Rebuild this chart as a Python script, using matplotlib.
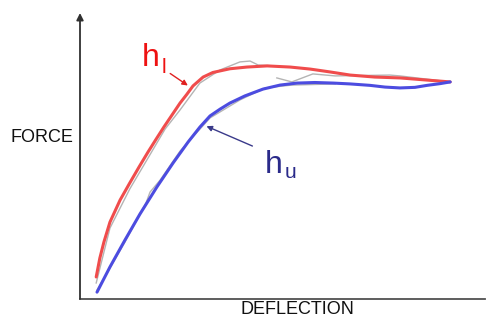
import matplotlib.pyplot as plt

plt.rcParams['font.family'] = ['Liberation Sans', 'DejaVu Sans']

# loading curve (h_l), red
red_x = [0.40, 0.49, 0.59, 0.74, 0.99, 1.23, 1.46, 1.68, 1.88, 2.07, 2.27, 2.47, 2.64, 2.79, 3.04, 3.28,
         3.70, 4.12, 4.62, 5.19, 5.68, 6.17, 6.67, 7.28, 7.90, 8.52, 9.14]
red_y = [0.77, 1.43, 1.99, 2.69, 3.46, 4.06, 4.62, 5.14, 5.59, 6.01, 6.43, 6.85, 7.16, 7.45, 7.76, 7.92,
         8.05, 8.11, 8.15, 8.11, 8.04, 7.94, 7.83, 7.76, 7.73, 7.66, 7.59]

# unloading curve (h_u), blue
blue_x = [0.42, 0.74, 1.11, 1.48, 1.90, 2.30, 2.67, 2.96, 3.21, 3.46, 3.70, 4.07, 4.52, 4.94, 5.36, 5.80,
          6.25, 6.67, 7.16, 7.53, 7.90, 8.27, 8.57, 8.89, 9.14]
blue_y = [0.24, 1.12, 2.06, 2.97, 3.92, 4.76, 5.49, 6.01, 6.40, 6.64, 6.85, 7.10, 7.34, 7.48, 7.55, 7.57,
          7.55, 7.52, 7.47, 7.41, 7.38, 7.40, 7.47, 7.53, 7.59]

# raw data traces, gray
gray1_x = [0.40, 0.74, 1.23, 1.68, 2.10, 2.47, 2.96, 3.46, 3.95, 4.20, 4.40, 4.81]
gray1_y = [0.56, 2.48, 3.85, 4.93, 5.94, 6.61, 7.55, 8.01, 8.29, 8.32, 8.18, 8.15]
gray2_x = [4.86, 5.23, 5.75, 6.30, 7.65, 7.90, 9.14]
gray2_y = [7.73, 7.59, 7.87, 7.80, 7.83, 7.80, 7.59]
gray3_x = [0.42, 1.11, 1.63, 1.73, 1.98, 2.47, 3.21, 3.95, 4.57, 5.23, 6.30]
gray3_y = [0.31, 1.99, 3.36, 3.74, 4.16, 5.17, 6.33, 6.96, 7.38, 7.48, 7.52]

fig = plt.figure(figsize=(4.87, 3.18), dpi=100)
ax = fig.add_axes([80/487, 19/318, 405/487, 286/318])
ax.set_xlim(0, 10)
ax.set_ylim(0, 10)
for s in ['top', 'right', 'left']:
    ax.spines[s].set_visible(False)
ax.spines['bottom'].set_color('#505050')
ax.spines['bottom'].set_linewidth(1.3)
ax.set_xticks([])
ax.set_yticks([])
ax.annotate('', xy=(0, 1.0), xytext=(0, 0), xycoords='axes fraction',
            arrowprops=dict(arrowstyle='-|>', color='#303030', lw=1.3,
                            mutation_scale=10, shrinkA=0, shrinkB=0))

ax.plot(gray1_x, gray1_y, color='#b4b4b4', lw=1)
ax.plot(gray2_x, gray2_y, color='#b4b4b4', lw=1)
ax.plot(gray3_x, gray3_y, color='#b4b4b4', lw=1)
ax.plot(red_x, red_y, color='#f04c4c', lw=2.2, solid_capstyle='round', solid_joinstyle='round')
ax.plot(blue_x, blue_y, color='#4c4ce0', lw=2.2, solid_capstyle='round', solid_joinstyle='round')

# labels with arrows
ax.text(1.53, 8.15, 'h', color='#ee1111', fontsize=23)
ax.text(2.01, 7.90, 'l', color='#ee1111', fontsize=15)
ax.annotate('', xy=(2.72, 7.41), xytext=(2.17, 7.94),
            arrowprops=dict(arrowstyle='-|>', color='#e02020', lw=1, mutation_scale=8))
ax.text(4.57, 4.41, 'h', color='#2a2a8a', fontsize=23)
ax.text(5.06, 4.23, 'u', color='#2a2a8a', fontsize=15)
ax.annotate('', xy=(3.06, 6.08), xytext=(4.32, 5.31),
            arrowprops=dict(arrowstyle='-|>', color='#3a3a8a', lw=1, mutation_scale=8))

fig.text(42/487, 1 - 138/318, 'FORCE', fontsize=13, ha='center', va='center', color='#111111')
fig.text(297/487, 1 - 310/318, 'DEFLECTION', fontsize=13, ha='center', va='center', color='#111111')

fig.savefig('out.png', dpi=100)
